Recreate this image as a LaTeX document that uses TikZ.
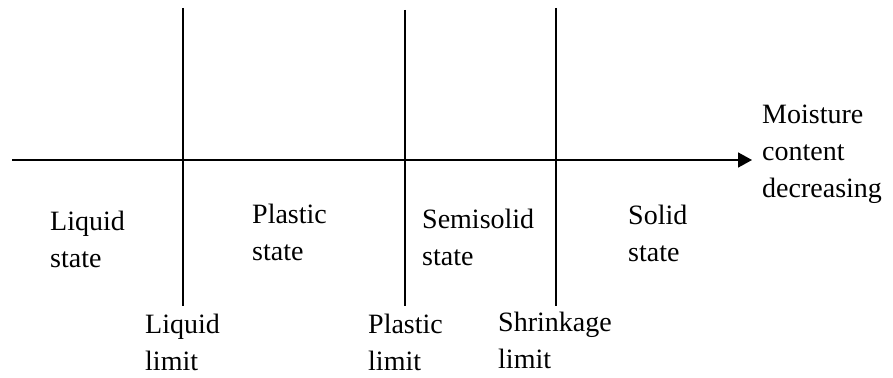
\documentclass[tikz,border=0pt]{standalone}
\usepackage{fontspec}
\setmainfont{Liberation Serif}
\usetikzlibrary{arrows.meta}
\begin{document}
\begin{tikzpicture}[
  x=1pt, y=-1pt,
  lbl/.style={anchor=base west, align=left, inner sep=0pt, font=\fontsize{28}{37}\selectfont},
  limit/.style={line width=2pt},
  arrow/.style={-{Triangle[length=14pt, width=15pt]}, line width=1.8pt}
]
  \useasboundingbox (0,0) rectangle (893,377);

  % Moisture axis
  \coordinate (axis start) at (12,160);
  \coordinate (axis end) at (752,160);
  \draw[arrow] (axis start) -- (axis end);

  % Limit lines
  \coordinate (ll top) at (183,8);
  \coordinate (ll bot) at (183,306);
  \coordinate (pl top) at (405,10);
  \coordinate (pl bot) at (405,306);
  \coordinate (sl top) at (556,8);
  \coordinate (sl bot) at (556,306);
  \draw[limit, line width=2.4pt] (ll top) -- (ll bot);
  \draw[limit, line width=1.5pt] (pl top) -- (pl bot);
  \draw[limit] (sl top) -- (sl bot);

  % States (base = last line)
  \node[lbl] (liquid) at (50,267) {Liquid\\state};
  \node[lbl] (plastic) at (252,260) {Plastic\\state};
  \node[lbl] (semisolid) at (422,265) {Semisolid\\state};
  \node[lbl] (solid) at (628,261) {Solid\\state};

  % Limits
  \node[lbl] (liquid limit) at (145,370) {Liquid\\limit};
  \node[lbl] (plastic limit) at (368,370) {Plastic\\limit};
  \node[lbl] (shrink limit) at (498,368) {Shrinkage\\limit};

  % Axis label
  \node[lbl] (moisture) at (762,197) {Moisture\\content\\decreasing};
\end{tikzpicture}
\end{document}
